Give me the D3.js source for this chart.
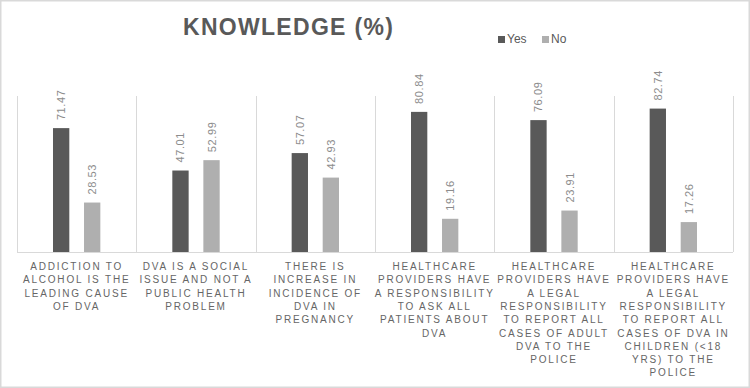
<!DOCTYPE html>
<html>
<head>
<meta charset="utf-8">
<script src="https://cdn.jsdelivr.net/npm/d3@7"></script>
<style>
  html, body { margin: 0; padding: 0; background: #fff; }
  svg { display: block; font-family: "Liberation Sans", Arial, sans-serif; }
</style>
</head>
<body>
<div id="chart"></div>
<script>
// --- DONNÉES ---
const categories = [
    ["ADDICTION TO", "ALCOHOL IS THE", "LEADING CAUSE", "OF DVA"],
    ["DVA IS A SOCIAL", "ISSUE AND NOT A", "PUBLIC HEALTH", "PROBLEM"],
    ["THERE IS", "INCREASE IN", "INCIDENCE OF", "DVA IN", "PREGNANCY"],
    ["HEALTHCARE", "PROVIDERS HAVE", "A RESPONSIBILITY", "TO ASK ALL", "PATIENTS ABOUT", "DVA"],
    ["HEALTHCARE", "PROVIDERS HAVE", "A LEGAL", "RESPONSIBILITY", "TO REPORT ALL", "CASES OF ADULT", "DVA TO THE", "POLICE"],
    ["HEALTHCARE", "PROVIDERS HAVE", "A LEGAL", "RESPONSIBILITY", "TO REPORT ALL", "CASES OF DVA IN", "CHILDREN (<18", "YRS) TO THE", "POLICE"]
];
const seriesNames = ["Yes", "No"];
const yesValues = [71.47, 47.01, 57.07, 80.84, 76.09, 82.74];
const noValues = [28.53, 52.99, 42.93, 19.16, 23.91, 17.26];
const seriesColors = ["#595959", "#afafaf"];

const width = 750, height = 388;
const margin = { top: 96, right: 17, bottom: 136, left: 17 };

const svg = d3.select("#chart").append("svg")
    .attr("width", width).attr("height", height);

// cadre extérieur
svg.append("rect")
    .attr("x", 0.75).attr("y", 0.75)
    .attr("width", width - 1.5).attr("height", height - 1.5)
    .attr("fill", "#fff").attr("stroke", "#d9d9d9").attr("stroke-width", 1.5);

const idx = d3.range(categories.length);
const x = d3.scaleBand().domain(idx).range([margin.left, width - margin.right]);
const x1 = d3.scaleBand().domain(seriesNames).range([0, x.bandwidth()]).paddingInner(0.474).paddingOuter(1.16);
const y = d3.scaleLinear().domain([0, 90]).range([height - margin.bottom, margin.top]);

// séparateurs verticaux
const seps = d3.range(categories.length + 1).map(i => margin.left + i * x.bandwidth());
svg.append("g").selectAll("line").data(seps).join("line")
    .attr("x1", d => Math.round(d) + 0.5).attr("x2", d => Math.round(d) + 0.5)
    .attr("y1", margin.top).attr("y2", y(0))
    .attr("stroke", "#d9d9d9").attr("stroke-width", 1);

// axe de base
svg.append("line")
    .attr("x1", margin.left).attr("x2", width - margin.right)
    .attr("y1", y(0) + 0.5).attr("y2", y(0) + 0.5)
    .attr("stroke", "#d9d9d9").attr("stroke-width", 1);

// barres
const rows = idx.map(i => ({ i, vals: [yesValues[i], noValues[i]] }));
const groups = svg.append("g").selectAll("g").data(rows).join("g")
    .attr("transform", d => `translate(${x(d.i)},0)`);

groups.selectAll("rect").data(d => d.vals.map((v, k) => ({ v, k })))
    .join("rect")
    .attr("x", d => x1(seriesNames[d.k]))
    .attr("width", x1.bandwidth())
    .attr("y", d => y(d.v))
    .attr("height", d => y(0) - y(d.v))
    .attr("fill", d => seriesColors[d.k]);

// étiquettes de valeurs (verticales)
groups.selectAll("text.val").data(d => d.vals.map((v, k) => ({ v, k })))
    .join("text")
    .attr("class", "val")
    .attr("transform", d => `translate(${x1(seriesNames[d.k]) + x1.bandwidth() / 2 + 4},${y(d.v) - 8}) rotate(-90)`)
    .attr("text-anchor", "start")
    .style("font-size", "11px").style("letter-spacing", "0.6px")
    .style("fill", "#8c8c8c")
    .text(d => d.v.toFixed(2));

// libellés des catégories
const lab = svg.append("g").selectAll("text").data(idx).join("text")
    .attr("x", i => x(i) + x.bandwidth() / 2)
    .attr("y", 270)
    .attr("text-anchor", "middle")
    .style("font-size", "10px").style("letter-spacing", "1.8px")
    .style("fill", "#666");
lab.selectAll("tspan").data(i => categories[i]).join("tspan")
    .attr("x", function () { return d3.select(this.parentNode).attr("x"); })
    .attr("dy", (d, j) => j === 0 ? 0 : 13.3)
    .text(d => d);

// titre
svg.append("text")
    .attr("x", 183).attr("y", 35)
    .style("font-size", "23px").style("font-weight", "bold")
    .style("letter-spacing", "1.3px").style("fill", "#595959")
    .text("KNOWLEDGE (%)");

// légende
const legX = [498, 542];
const leg = svg.append("g").selectAll("g").data(seriesNames).join("g")
    .attr("transform", (d, k) => `translate(${legX[k]},0)`);
leg.append("rect").attr("x", 0).attr("y", 36).attr("width", 7).attr("height", 7)
    .attr("fill", (d, k) => seriesColors[k]);
leg.append("text").attr("x", 9).attr("y", 43)
    .style("font-size", "12px").style("fill", "#595959")
    .text(d => d);
</script>
</body>
</html>
